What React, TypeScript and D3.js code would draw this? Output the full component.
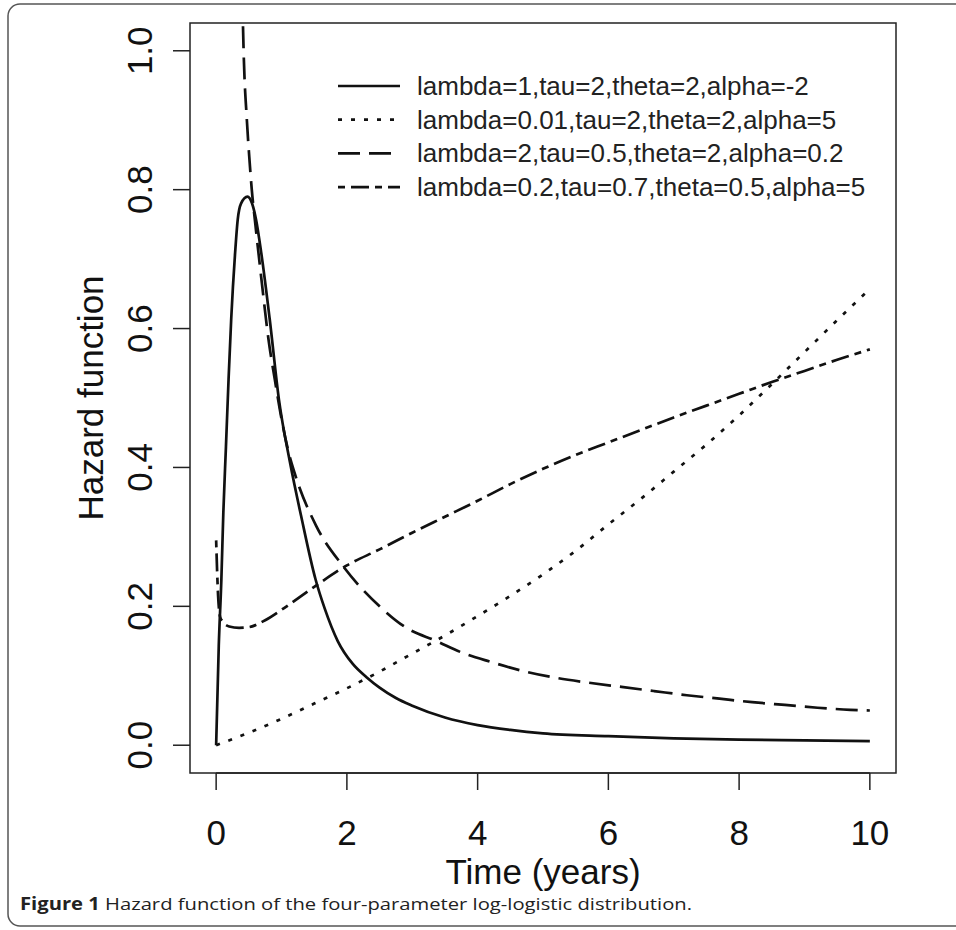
import * as d3 from 'd3';

// values (time in years, hazard)
const solidT = [0, 0.04, 0.08, 0.11, 0.15, 0.19, 0.23, 0.29, 0.33, 0.38, 0.48, 0.55, 0.61, 0.69, 0.82, 0.96, 1.13, 1.3, 1.52, 1.66, 1.86, 2.09, 2.3, 2.5, 2.75, 3.0, 3.5, 4.0, 4.5, 5.0, 6.0, 7.0, 8.0, 9.0, 10.0];
const solidH = [0, 0.143, 0.239, 0.335, 0.43, 0.527, 0.613, 0.709, 0.757, 0.78, 0.79, 0.78, 0.757, 0.709, 0.613, 0.498, 0.407, 0.33, 0.239, 0.197, 0.15, 0.117, 0.098, 0.083, 0.068, 0.057, 0.04, 0.029, 0.022, 0.017, 0.013, 0.01, 0.008, 0.007, 0.006];

const dottedT = [0, 0.5, 1, 1.5, 2, 2.5, 3, 3.5, 4, 4.5, 5, 5.5, 6, 6.5, 7, 7.5, 8, 8.5, 9, 9.5, 10];
const dottedH = [0, 0.018, 0.038, 0.06, 0.082, 0.106, 0.132, 0.158, 0.186, 0.215, 0.246, 0.28, 0.318, 0.355, 0.394, 0.433, 0.475, 0.52, 0.566, 0.612, 0.657];

const longDashT = [0.4, 0.42, 0.47, 0.51, 0.545, 0.6, 0.7, 0.8, 0.9, 1.0, 1.1, 1.2, 1.53, 1.94, 2.5, 2.91, 3.37, 3.77, 4.2, 4.69, 5.2, 5.7, 6.2, 6.7, 7.2, 7.7, 8.2, 8.7, 9.2, 9.7, 10];
const longDashH = [1.08, 1.0, 0.9, 0.843, 0.8, 0.75, 0.665, 0.585, 0.525, 0.47, 0.425, 0.392, 0.316, 0.258, 0.2, 0.169, 0.15, 0.133, 0.12, 0.107, 0.097, 0.09, 0.084, 0.078, 0.072, 0.067, 0.062, 0.058, 0.054, 0.051, 0.05];

const twoDashT = [0, 0.03, 0.06, 0.1, 0.2, 0.35, 0.5, 0.75, 1, 1.5, 2, 2.5, 3, 3.5, 4, 4.5, 5, 5.5, 6, 6.5, 7, 7.5, 8, 8.5, 9, 9.5, 10];
const twoDashH = [0.295, 0.215, 0.185, 0.178, 0.171, 0.169, 0.17, 0.18, 0.195, 0.228, 0.259, 0.282, 0.306, 0.329, 0.352, 0.376, 0.398, 0.418, 0.436, 0.454, 0.472, 0.489, 0.506, 0.523, 0.539, 0.555, 0.57];

const legendLabels = [
  'lambda=1,tau=2,theta=2,alpha=-2',
  'lambda=0.01,tau=2,theta=2,alpha=5',
  'lambda=2,tau=0.5,theta=2,alpha=0.2',
  'lambda=0.2,tau=0.7,theta=0.5,alpha=5',
];
const dashes = ['', '4,9', '22,9', '7,6,18,6'];

const xTicks = [0, 2, 4, 6, 8, 10];
const yTicks = [0, 0.2, 0.4, 0.6, 0.8, 1.0];

const series = [
  { t: solidT, h: solidH },
  { t: dottedT, h: dottedH },
  { t: longDashT, h: longDashH },
  { t: twoDashT, h: twoDashH },
];

export default function App() {
  const left = 190, right = 896, top = 23, bottom = 773;
  const x = d3.scaleLinear().domain([-0.4, 10.4]).range([left, right]);
  const y = d3.scaleLinear().domain([-0.04, 1.04]).range([bottom, top]);

  const line = d3.line<[number, number]>()
    .x(d => x(d[0]))
    .y(d => y(d[1]))
    .curve(d3.curveMonotoneX);

  const font = 'Liberation Sans, Arial, sans-serif';

  return (
    <svg
      width={956}
      height={930}
      style={{ position: 'absolute', left: 0, top: 0, display: 'block', background: '#fff' }}
    >
      <defs>
        <clipPath id="plotClip">
          <rect x={left} y={top} width={right - left} height={bottom - top} />
        </clipPath>
      </defs>

      {/* figure frame */}
      <rect x={8} y={4} width={980} height={922} rx={12} fill="none" stroke="#555" strokeWidth={1.5} />

      {/* plot box */}
      <rect x={left} y={top} width={right - left} height={bottom - top} fill="none" stroke="#222" strokeWidth={1.5} />

      {/* curves */}
      <g clipPath="url(#plotClip)">
        {series.map((s, i) => (
          <path
            key={i}
            d={line(s.t.map((t, j) => [t, s.h[j]] as [number, number])) || ''}
            fill="none"
            stroke="#111"
            strokeWidth={2.7}
            strokeDasharray={dashes[i] || undefined}
          />
        ))}
      </g>

      {/* x axis */}
      <line x1={x(0)} x2={x(10)} y1={bottom} y2={bottom} stroke="#222" strokeWidth={1.5} />
      {xTicks.map(t => (
        <g key={t}>
          <line x1={x(t)} x2={x(t)} y1={bottom} y2={bottom + 17} stroke="#222" strokeWidth={1.5} />
          <text x={x(t)} y={845} textAnchor="middle" fontSize={35} fontFamily={font} fill="#111">
            {t}
          </text>
        </g>
      ))}
      <text x={(left + right) / 2} y={884} textAnchor="middle" fontSize={35} fontFamily={font} fill="#111">
        Time (years)
      </text>

      {/* y axis */}
      {yTicks.map(v => (
        <g key={v}>
          <line x1={left - 17} x2={left} y1={y(v)} y2={y(v)} stroke="#222" strokeWidth={1.5} />
          <text
            transform={`translate(152,${y(v)}) rotate(-90)`}
            textAnchor="middle"
            fontSize={35}
            fontFamily={font}
            fill="#111"
          >
            {v.toFixed(1)}
          </text>
        </g>
      ))}
      <text
        transform={`translate(103,${(top + bottom) / 2}) rotate(-90)`}
        textAnchor="middle"
        fontSize={35}
        fontFamily={font}
        fill="#111"
      >
        Hazard function
      </text>

      {/* legend */}
      {legendLabels.map((label, i) => {
        const ly = 86 + i * 33.7;
        return (
          <g key={label}>
            <line x1={338} x2={400} y1={ly} y2={ly} stroke="#111" strokeWidth={2.7} strokeDasharray={dashes[i] || undefined} />
            <text x={417} y={ly} dominantBaseline="central" fontSize={26} fontFamily={font} fill="#222">
              {label}
            </text>
          </g>
        );
      })}

      {/* caption */}
      <text x={20} y={910} fontSize={17} fontFamily="Liberation Sans Narrow, Open Sans, sans-serif" fill="#222" textLength={672} lengthAdjust="spacingAndGlyphs">
        <tspan fontWeight="bold">Figure 1</tspan> Hazard function of the four-parameter log-logistic distribution.
      </text>
    </svg>
  );
}
